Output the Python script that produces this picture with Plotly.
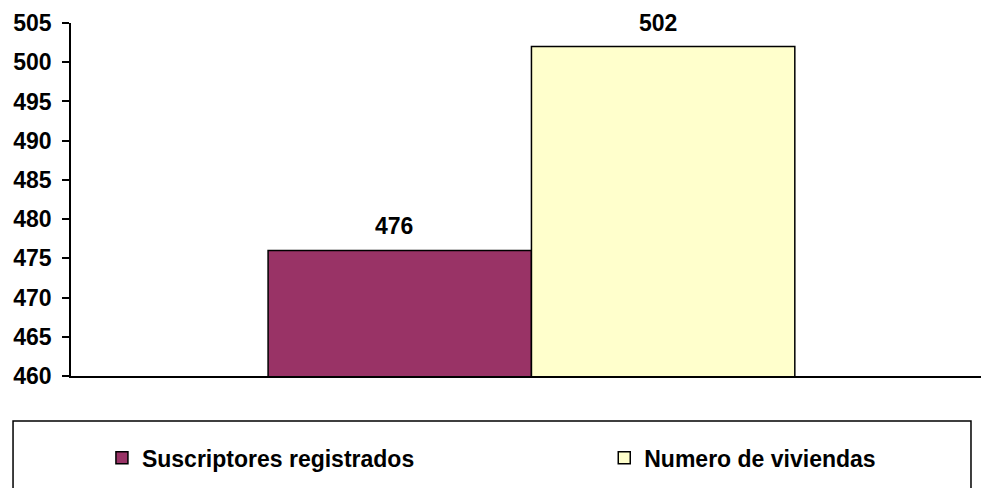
import plotly.graph_objects as go

category = [""]
series_names = ["Suscriptores registrados", "Numero de viviendas"]
series_values = [[476], [502]]
series_colors = ["#993366", "#FFFFCC"]
y_ticks = list(range(460, 510, 5))

FONT = dict(family="Liberation Sans, Arial, sans-serif", size=23, color="black", weight="bold")

fig = go.Figure()
legend_ids = ["legend", "legend2"]
for name, vals, col, lg in zip(series_names, series_values, series_colors, legend_ids):
    fig.add_trace(go.Bar(
        x=category, y=vals, name=name, legend=lg,
        marker=dict(color=col, line=dict(color="black", width=1.5)),
        hoverinfo="skip",
    ))

# value labels above bars (half bar width offset in px)
half_bar_px = 132
for i, vals in enumerate(series_values):
    for c, v in zip(category, vals):
        fig.add_annotation(x=c, y=v, text=str(v), showarrow=False,
                           xref="x", yref="y", yanchor="bottom",
                           xshift=(2 * i - 1) * half_bar_px,
                           yshift=9, font=FONT)

leg_common = dict(orientation="h", xanchor="left", yanchor="middle",
                  bgcolor="rgba(0,0,0,0)", font=FONT)

fig.update_layout(
    width=981, height=488,
    margin=dict(l=71, r=0, t=23, b=112),
    paper_bgcolor="white", plot_bgcolor="white",
    barmode="group", bargap=0.42, bargroupgap=0,
    font=FONT,
    showlegend=True,
    legend=dict(x=0.034, y=-0.232, **leg_common),
    legend2=dict(x=0.586, y=-0.232, **leg_common),
    xaxis=dict(range=[-0.507, 0.495], showline=True, linecolor="black", linewidth=1.5,
               showticklabels=False, ticks="", showgrid=False, zeroline=False, fixedrange=True),
    yaxis=dict(range=[y_ticks[0], y_ticks[-1]], tickvals=y_ticks, ticks="outside", ticklen=7,
               tickwidth=1.5, tickcolor="black", showline=True, linecolor="black", linewidth=1.5,
               showgrid=False, zeroline=False, tickfont=FONT, ticklabelstandoff=6, fixedrange=True),
    shapes=[dict(type="rect", xref="paper", yref="paper", x0=-0.0637, x1=0.989,
                 y0=-0.35, y1=-0.1275, line=dict(color="black", width=1.5),
                 fillcolor="rgba(0,0,0,0)", layer="below")],
)

fig.write_html("out.html", config={"displayModeBar": False},
               post_script="document.body.style.margin='0px';")
